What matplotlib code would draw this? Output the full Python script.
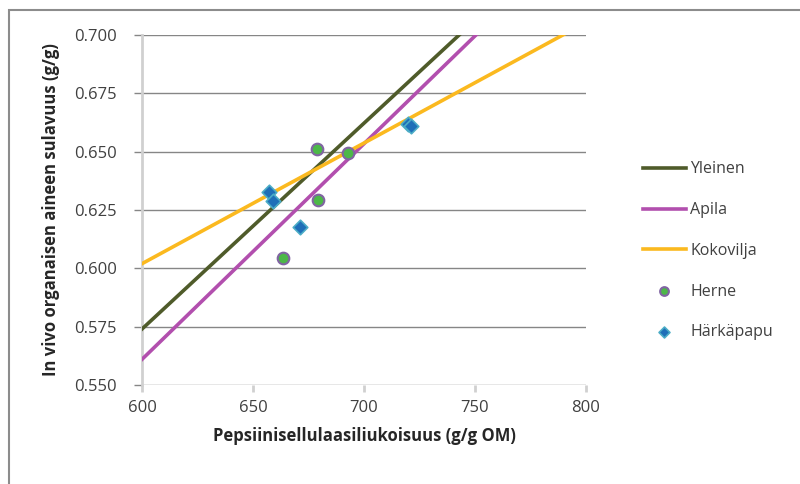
import numpy as np
import matplotlib.pyplot as plt
from matplotlib.patches import Rectangle

plt.rcParams['font.family'] = ['Open Sans', 'DejaVu Sans']

# regression lines: intercept at x=600 and slope
line_names = ['Yleinen', 'Apila', 'Kokovilja']
line_y600 = [0.574, 0.561, 0.602]
line_slope = [0.000882, 0.000924, 0.000517]
line_colors = ['#4f5b2a', '#b24fae', '#fbb91f']

herne_x = [663.4, 678.8, 679.3, 692.6]
herne_y = [0.6043, 0.6511, 0.6293, 0.6494]

harka_x = [657.4, 659.1, 671.2, 720.0, 721.3]
harka_y = [0.6328, 0.6290, 0.6178, 0.6617, 0.6612]

xticks = [600, 650, 700, 750, 800]
yticks = [0.550, 0.575, 0.600, 0.625, 0.650, 0.675, 0.700]

fig = plt.figure(figsize=(8, 4.84), dpi=100)
# outer chart frame (only left and top edges visible)
fig.patches.append(Rectangle((9 / 800, -0.1), 1.1, 1.1 - 10 / 484, transform=fig.transFigure,
                             fill=False, edgecolor='#8c8c8c', linewidth=1.5))
ax = fig.add_axes([0.1775, 0.2045, 0.555, 0.7232])

xx = np.array([600, 800])
for name, b, k, c in zip(line_names, line_y600, line_slope, line_colors):
    ax.plot(xx, b + k * (xx - 600), color=c, linewidth=2.6, label=name, zorder=3)

ax.scatter(herne_x, herne_y, s=70, color='#4cb848', edgecolor='#8064a2',
           linewidth=1.5, label='Herne', zorder=4)
ax.scatter(harka_x, harka_y, s=55, marker='D', color='#1f6fb8', edgecolor='#4bacc6',
           linewidth=1.2, label='Härkäpapu', zorder=4)

ax.set_xlim(600, 800)
ax.set_ylim(0.550, 0.700)
ax.set_xticks(xticks)
ax.set_yticks(yticks)
ax.set_yticklabels(['%.3f' % v for v in yticks])
ax.grid(axis='y', color='#868686', linewidth=1)
ax.set_axisbelow(True)

for s in ['top', 'right', 'bottom']:
    ax.spines[s].set_visible(False)
ax.spines['left'].set_color('#d0d0d0')
ax.spines['left'].set_linewidth(2)
ax.tick_params(axis='y', length=6, color='#868686', width=1, labelsize=12,
               labelcolor='#404040', pad=12)
ax.tick_params(axis='x', length=5, color='#d0d0d0', width=2, labelsize=12,
               labelcolor='#404040', pad=6)

ax.set_xlabel('Pepsiinisellulaasiliukoisuus (g/g OM)', fontsize=12,
              fontweight='bold', color='#262626', labelpad=8)
ax.set_ylabel('In vivo organaisen aineen sulavuus (g/g)', fontsize=12,
              fontweight='bold', color='#262626', labelpad=10)

leg = ax.legend(loc='upper left', bbox_to_anchor=(1.095, 0.68), frameon=False,
                fontsize=11.5, labelspacing=1.55, handlelength=2.7, handletextpad=0.3,
                labelcolor='#404040', markerscale=0.75)

plt.savefig('out.png', dpi=100)
